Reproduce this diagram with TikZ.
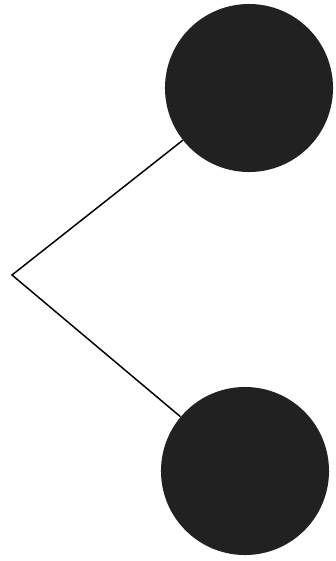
\documentclass[tikz,border=0pt]{standalone}
\begin{document}
\begin{tikzpicture}[
    x=0.025cm, y=-0.025cm,
    ball/.style={circle, fill=black!87, inner sep=0pt, minimum size=4.2cm},
    edge/.style={line width=1.05pt}
]
\useasboundingbox (0,0) rectangle (336,561);

% the two balls and the corner
\node[ball] (upper) at (249,88) {};
\node[ball] (lower) at (245,471) {};
\coordinate (apex) at (12,275);

\draw[edge] (upper) -- (apex) -- (lower);

\end{tikzpicture}
\end{document}
